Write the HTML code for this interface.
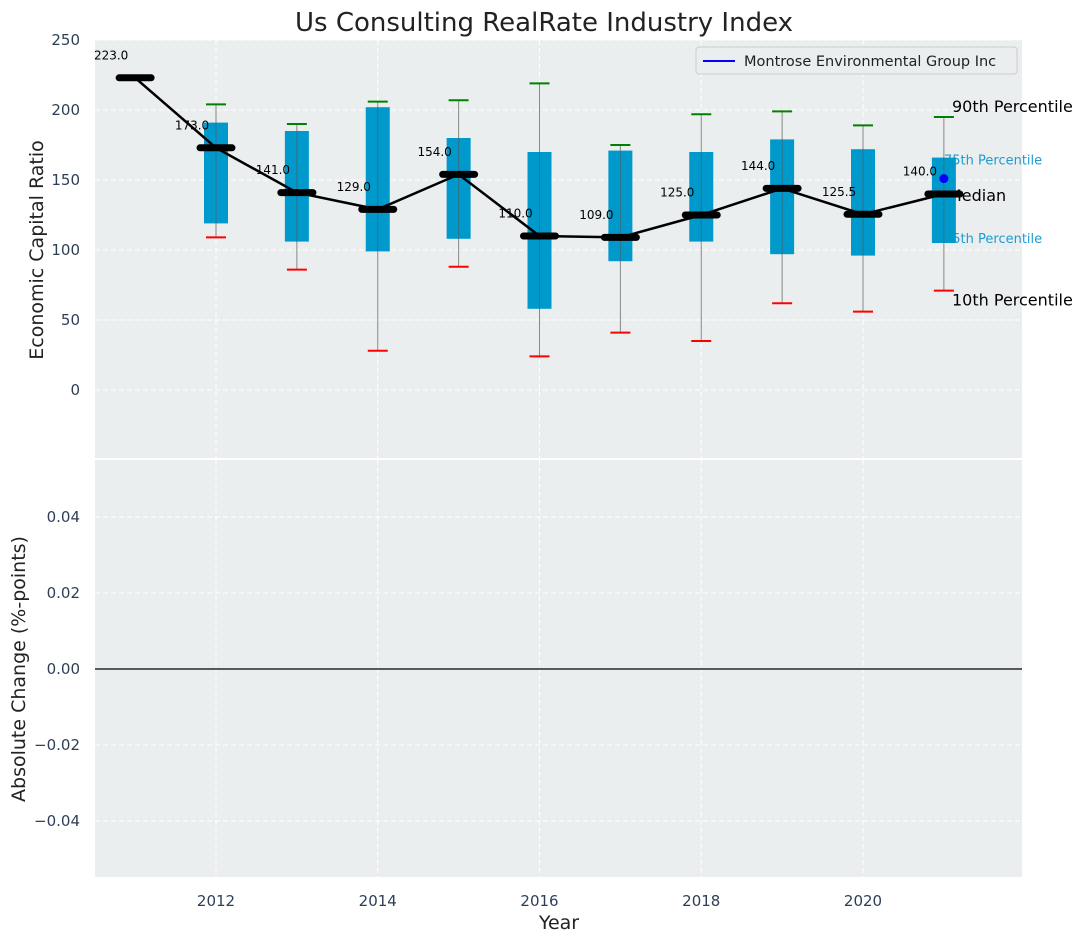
<!DOCTYPE html>
<html><head><meta charset="utf-8">
<style>
body{margin:0;background:#fff;font-family:"DejaVu Sans","Liberation Sans",sans-serif;}
svg text{font-family:"DejaVu Sans","Liberation Sans",sans-serif;}
</style></head>
<body>
<svg id="chart" width="1087" height="942" xmlns="http://www.w3.org/2000/svg">
<text x="544" y="31" text-anchor="middle" font-size="26" fill="#222">Us Consulting RealRate Industry Index</text>
<rect x="95" y="40" width="927" height="418" fill="#eaeeef"/>
<rect x="95" y="460" width="927" height="417" fill="#eaeeef"/>
<g id="grid"></g>
<g id="marks"></g>
<text transform="translate(43,250) rotate(-90)" text-anchor="middle" font-size="19" fill="#222">Economic Capital Ratio</text>
<text transform="translate(25,669) rotate(-90)" text-anchor="middle" font-size="19" fill="#222">Absolute Change (%-points)</text>
<text x="559" y="929" text-anchor="middle" font-size="19" fill="#222">Year</text>
<g>
<rect x="696" y="47" width="321" height="27" rx="3" fill="#eaeeef" stroke="#ccc"/>
<line x1="703" y1="61" x2="735" y2="61" stroke="blue" stroke-width="2"/>
<text x="744" y="66" font-size="14.5" fill="#222">Montrose Environmental Group Inc</text>
</g>
</svg>
<script>
const years=[2012,2013,2014,2015,2016,2017,2018,2019,2020,2021];
const q1=[119,106,99,108,58,92,106,97,96,105];
const q3=[191,185,202,180,170,171,170,179,172,166];
const p10=[109,86,28,88,24,41,35,62,56,71];
const p90=[204,190,206,207,219,175,197,199,189,195];
const medYears=[2011,2012,2013,2014,2015,2016,2017,2018,2019,2020,2021];
const medians=[223,173,141,129,154,110,109,125,144,125.5,140];
const companyYear=2021, companyValue=151;
const yTicksTop=[0,50,100,150,200,250];
const yTicksBot=[-0.04,-0.02,0,0.02,0.04];
const xTicks=[2012,2014,2016,2018,2020];

const NS="http://www.w3.org/2000/svg";
const X=v=>216+(v-2012)*80.875;
const Y=v=>390-v*1.4;
const Yb=v=>669-v*3800;
const grid=document.getElementById('grid'),marks=document.getElementById('marks'),svg=document.getElementById('chart');
function mk(tag,attrs,parent,txt){const e=document.createElementNS(NS,tag);for(const k in attrs)e.setAttribute(k,attrs[k]);if(txt!==undefined)e.textContent=txt;parent.appendChild(e);return e;}
xTicks.forEach(t=>{
  let g=mk('line',{x1:X(t),x2:X(t),y1:40,y2:458,stroke:'#fff','stroke-dasharray':'5,3','stroke-width':1},grid);
  
  
  g=mk('line',{x1:X(t),x2:X(t),y1:460,y2:877,stroke:'#fff','stroke-dasharray':'5,3','stroke-width':1},grid);
  
  
  const l=mk('text',{x:X(t),y:906,'text-anchor':'middle','font-size':15,fill:'#2e3f55'},svg,String(t));
  
  
});
yTicksTop.forEach(t=>{
  const g=mk('line',{x1:95,x2:1022,y1:Y(t),y2:Y(t),stroke:'#fff','stroke-dasharray':'5,3'},grid);
  
  
  const l=mk('text',{x:80,y:Y(t)+5,'text-anchor':'end','font-size':15,fill:'#2e3f55'},svg,String(t));
  
  
});
yTicksBot.forEach(t=>{
  const g=mk('line',{x1:95,x2:1022,y1:Yb(t),y2:Yb(t),stroke:'#fff','stroke-dasharray':'5,3'},grid);
  
  
  const s=(t<0?'\u2212':'')+Math.abs(t).toFixed(2);
  const l=mk('text',{x:80,y:Yb(t)+5,'text-anchor':'end','font-size':15,fill:'#2e3f55'},svg,s);
  
  
});
const zl=mk('line',{x1:95,x2:1022,y1:Yb(0),y2:Yb(0),stroke:'#000','stroke-width':1.2},marks);


[['90th Percentile',p90[9],'#000',16,952,-5],['75th Percentile',q3[9],'#1f9bd1',13,944,7],['Median',medians[10],'#000',16,948,7],['25th Percentile',q1[9],'#1f9bd1',13,944,0],['10th Percentile',p10[9],'#000',16,952,15]].forEach(a=>{
  const t=mk('text',{x:a[4],y:Y(a[1])+a[5],'font-size':a[3],fill:a[2]},marks,a[0]);
  
  
});
years.forEach((yr,i)=>{
  const x=X(yr);
  const w=mk('line',{x1:x,x2:x,y1:Y(p90[i]),y2:Y(p10[i]),stroke:'#888','stroke-width':1},marks);
  
  
  const b=mk('rect',{x:x-12,y:Y(q3[i]),width:24,height:Y(q1[i])-Y(q3[i]),fill:'#0099cc'},marks);
  
  
  const w2=mk('line',{x1:x,x2:x,y1:Y(q3[i]),y2:Y(q1[i]),stroke:'#555','stroke-width':1,opacity:0.6},marks);
  
  
  const c1=mk('line',{x1:x-10,x2:x+10,y1:Y(p90[i]),y2:Y(p90[i]),stroke:'green','stroke-width':2},marks);
  
  
  const c2=mk('line',{x1:x-10,x2:x+10,y1:Y(p10[i]),y2:Y(p10[i]),stroke:'red','stroke-width':2},marks);
  
  
});
const pl=mk('polyline',{points:medYears.map((y,i)=>X(y)+','+Y(medians[i])).join(' '),fill:'none',stroke:'#000','stroke-width':2.5},marks);


medYears.forEach((yr,i)=>{
  const x=X(yr),y=Y(medians[i]);
  const m=mk('line',{x1:x-16,x2:x+16,y1:y,y2:y,stroke:'#000','stroke-width':7,'stroke-linecap':'round'},marks);
  
  
  const t=mk('text',{x:x-24,y:Y(medians[i]+16)+4,'text-anchor':'middle','font-size':12,fill:'#000'},marks,medians[i].toFixed(1));
  
  
});
const cp=mk('circle',{cx:X(companyYear),cy:Y(companyValue),r:4.5,fill:'blue'},marks);


</script>
</body></html>
